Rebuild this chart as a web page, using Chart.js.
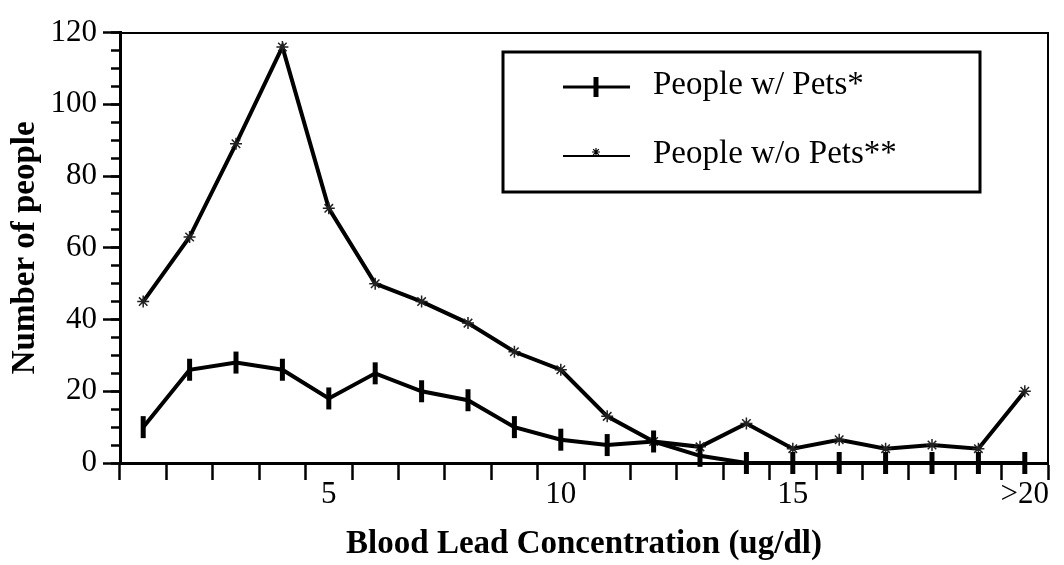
<!DOCTYPE html>
<html>
<head>
<meta charset="utf-8">
<script src="https://cdn.jsdelivr.net/npm/chart.js@4/dist/chart.umd.min.js"></script>
<style>
  body { margin: 0; background: #fff; }
</style>
</head>
<body>
<canvas id="myChart" width="1064" height="565"></canvas>
<script>
// blood lead concentration bins (ug/dl), last bin is >20
var categories = ['1','2','3','4','5','6','7','8','9','10','11','12','13','14','15','16','17','18','19','>20'];
var shownLabels = ['5', '10', '15', '>20'];

// number of people per bin
var withPets = [10, 26, 28, 26, 18, 25, 20, 17.5, 10, 6.5, 5, 6, 2, 0, 0, 0, 0, 0, 0, 0];
var withoutPets = [45, 63, 89, 116, 71, 50, 45, 39, 31, 26, 13, 6, 4.5, 11, 4, 6.5, 4, 5, 4, 20];

var seriesNames = ['People w/ Pets*', 'People w/o Pets**'];

var serif = "'Liberation Serif', 'Times New Roman', serif";

// boxed legend drawn in the upper right of the plot
var boxLegend = {
  id: 'boxLegend',
  afterDraw: function (chart) {
    var ctx = chart.ctx;
    ctx.save();
    ctx.strokeStyle = '#000';
    ctx.lineWidth = 3;
    ctx.strokeRect(503, 52, 477, 140);
    var rows = [87, 156];
    chart.data.datasets.forEach(function (ds, i) {
      var y = rows[i];
      ctx.strokeStyle = '#000';
      ctx.lineWidth = i === 0 ? 3 : 2;
      ctx.beginPath();
      ctx.moveTo(563, y);
      ctx.lineTo(630, y);
      ctx.stroke();
      var opts = {
        pointStyle: ds.pointStyle,
        rotation: ds.pointRotation || 0,
        radius: i === 0 ? 10 : 4,
        borderWidth: i === 0 ? 5 : 1.2
      };
      ctx.lineWidth = opts.borderWidth;
      Chart.helpers.drawPoint(ctx, opts, 596, i === 0 ? y : y - 4);
      ctx.fillStyle = '#000';
      ctx.font = '33px ' + serif;
      ctx.textBaseline = 'middle';
      ctx.textAlign = 'left';
      ctx.fillText(ds.label, 653, y - 2);
    });
    ctx.restore();
  }
};

var ctx = document.getElementById('myChart').getContext('2d');
var chart = new Chart(ctx, {
  type: 'line',
  data: {
    labels: categories,
    datasets: [{
      label: seriesNames[0],
      data: withPets,
      borderColor: '#000',
      backgroundColor: '#000',
      borderWidth: 4,
      tension: 0,
      pointStyle: 'line',
      pointRotation: 90,
      pointRadius: 11,
      pointBorderWidth: 5,
      pointBorderColor: '#000',
      clip: false
    }, {
      label: seriesNames[1],
      data: withoutPets,
      borderColor: '#000',
      backgroundColor: '#000',
      borderWidth: 4,
      tension: 0,
      pointStyle: 'star',
      pointRadius: 6,
      pointBorderWidth: 1.5,
      pointBorderColor: '#222',
      clip: false
    }]
  },
  plugins: [boxLegend],
  options: {
    responsive: false,
    animation: false,
    layout: { padding: { top: 23, right: 6, left: 0, bottom: 0 } },
    plugins: {
      legend: { display: false },
      tooltip: { enabled: false }
    },
    scales: {
      x: {
        type: 'category',
        offset: true,
        grid: { offset: true, drawOnChartArea: false, tickLength: 17, tickWidth: 2.5, tickColor: '#000' },
        border: { display: true, color: '#000', width: 3 },
        ticks: {
          autoSkip: false,
          maxRotation: 0,
          padding: -4,
          color: '#000',
          font: { family: serif, size: 31 },
          callback: function (value) {
            var lab = this.getLabelForValue(value);
            return shownLabels.indexOf(lab) >= 0 ? lab : '';
          }
        },
        title: {
          display: true,
          text: 'Blood Lead Concentration (ug/dl)',
          color: '#000',
          font: { family: serif, size: 33, weight: 'bold' },
          padding: { top: 0, bottom: 1 }
        },
        afterFit: function (scale) { scale.height = 102; }
      },
      xTop: {
        type: 'category',
        position: 'top',
        grid: { display: false },
        ticks: { display: false },
        border: { display: true, color: '#000', width: 2 },
        afterFit: function (scale) { scale.height = 0; }
      },
      y: {
        min: 0,
        max: 120,
        weight: 1,
        ticks: {
          stepSize: 5,
          autoSkip: false,
          padding: 14,
          color: '#000',
          font: { family: serif, size: 31 },
          callback: function (value) { return value % 20 === 0 ? value : ''; }
        },
        grid: { drawOnChartArea: false, tickLength: 9, tickWidth: 2.5, tickColor: '#000' },
        border: { display: true, color: '#000', width: 3 },
        title: {
          display: true,
          text: 'Number of people',
          color: '#000',
          font: { family: serif, size: 33, weight: 'bold' },
          padding: { top: 6, bottom: 0 }
        },
        afterFit: function (scale) { scale.width = 120; }
      },
      yMajor: {
        position: 'left',
        min: 0,
        max: 120,
        weight: 0,
        ticks: { stepSize: 20, display: false },
        grid: { drawOnChartArea: false, tickLength: 17, tickWidth: 2.5, tickColor: '#000' },
        border: { display: true, color: '#000', width: 3 },
        afterFit: function (scale) { scale.width = 0; }
      },
      yRight: {
        position: 'right',
        min: 0,
        max: 120,
        grid: { display: false },
        ticks: { display: false },
        border: { display: true, color: '#000', width: 2 },
        afterFit: function (scale) { scale.width = 0; }
      }
    }
  }
});
</script>
</body>
</html>
